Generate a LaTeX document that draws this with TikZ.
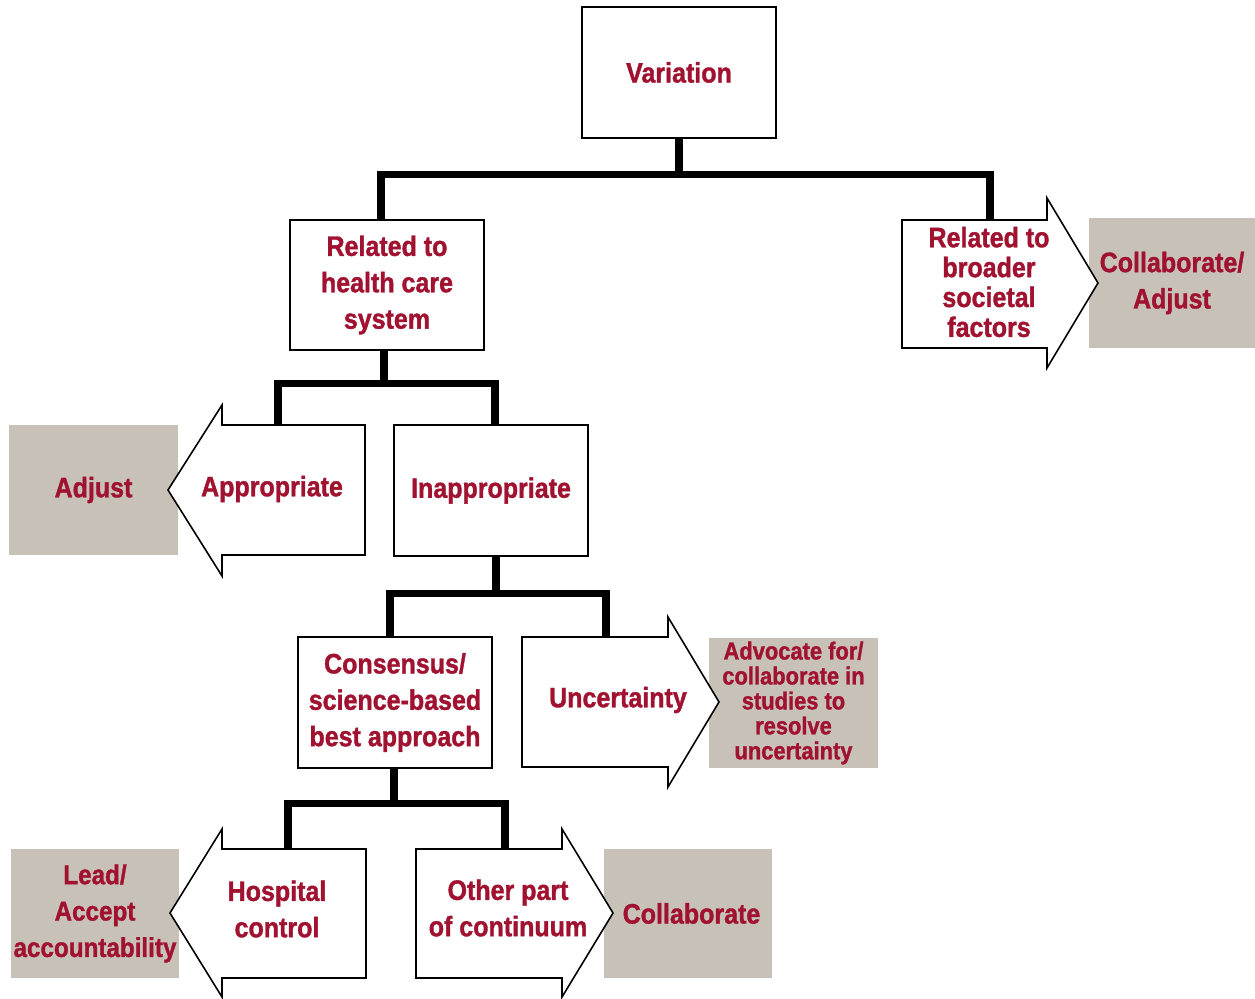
\documentclass[tikz,border=0pt]{standalone}
\usepackage{fontspec}
\setmainfont{Liberation Sans}[FakeStretch=0.89, BoldFeatures={FakeBold=1.3}]
\usetikzlibrary{calc}

\definecolor{vred}{RGB}{160,18,48}
\definecolor{vgray}{RGB}{200,193,183}

\tikzset{
  box/.style={draw, line width=0.9pt, fill=white, minimum width=3.88cm, minimum height=2.62cm,
    align=center, inner sep=0pt, text=vred, font=\bfseries\fontsize{16}{20.7}\selectfont},
  arrowtext/.style={minimum height=2.6cm, align=center, inner sep=0pt,
    text=vred, font=\bfseries\fontsize{16}{20.7}\selectfont},
  outline/.style={draw, line width=0.9pt, fill=white, line join=miter},
  todo/.style={fill=vgray, minimum height=2.6cm, align=center, inner sep=0pt,
    text=vred, font=\bfseries\fontsize{16}{20.7}\selectfont},
  tree/.style={line width=4pt}
}

\begin{document}
\begin{tikzpicture}[x=0.02cm, y=-0.02cm]
  \useasboundingbox (0,0) rectangle (1255,998);

  % what to do (grey boxes)
  \node[todo, minimum width=3.32cm] (colad) at (1172,283) {Collaborate/\\Adjust};
  \node[todo, minimum width=3.38cm] (adj) at (93.5,490) {Adjust};
  \node[todo, minimum width=3.38cm, font=\bfseries\fontsize{14}{14.2}\selectfont] (adv) at (793.5,703) {Advocate for/\\collaborate in\\studies to\\resolve\\uncertainty};
  \node[todo, minimum width=3.36cm, minimum height=2.58cm, font=\bfseries\fontsize{15.5}{20.7}\selectfont] (lead) at (95,913.5) {Lead/\\Accept\\accountability};
  \node[todo, minimum width=3.36cm, minimum height=2.58cm] (coll) at (688,913.5) {\hspace*{0.14cm}Collaborate};

  % arrow outlines
  \draw[outline] (902,220) -- (1047,220) -- (1047,198) -- (1098,283) -- (1047,368) -- (1047,348) -- (902,348) -- cycle;
  \draw[outline] (365,425) -- (222,425) -- (222,405) -- (168,490) -- (222,576) -- (222,555) -- (365,555) -- cycle;
  \draw[outline] (522,637) -- (668,637) -- (668,617) -- (719,702) -- (668,787) -- (668,767) -- (522,767) -- cycle;
  \draw[outline] (366,849) -- (222,849) -- (222,829) -- (170,913) -- (222,997) -- (222,978) -- (366,978) -- cycle;
  \draw[outline] (416,849) -- (562,849) -- (562,829) -- (613,913) -- (562,997) -- (562,978) -- (416,978) -- cycle;

  % boxes
  \node[box] (var) at (679,72.5) {Variation};
  \node[box, minimum height=2.6cm] (hcs) at (387,285) {Related to\\health care\\system};
  \node[box] (inap) at (491,490.5) {Inappropriate};
  \node[box] (cons) at (395,702.5) {Consensus/\\science-based\\best approach};

  \node[arrowtext, minimum height=2.56cm, font=\bfseries\fontsize{16}{17}\selectfont] (soc) at (989,282) {Related to\\broader\\societal\\factors};
  \node[arrowtext] (appr) at (272,489) {Appropriate};
  \node[arrowtext] (unc) at (618,700) {Uncertainty};
  \node[arrowtext, minimum height=2.58cm] (hosp) at (277,909) {Hospital\\control};
  \node[arrowtext, minimum height=2.58cm] (oth) at (508,908) {Other part\\of continuum};

  % tree
  \draw[tree] (var.south) -- ++(0,36) -| ($(hcs.north)+(-6,0)$);
  \draw[tree] (var.south) -- ++(0,36) -| ($(soc.north)+(1,2)$);
  \draw[tree] ($(hcs.south)+(-3,0)$) -- ++(0,33) -| ($(appr.north)+(6,1)$);
  \draw[tree] ($(hcs.south)+(-3,0)$) -- ++(0,33) -| ($(inap.north)+(4,0)$);
  \draw[tree] ($(inap.south)+(5,0)$) -- ++(0,37) -| ($(cons.north)+(-5,0)$);
  \draw[tree] ($(inap.south)+(5,0)$) -- ++(0,37) -| ($(unc.north)+(-12,2)$);
  \draw[tree] ($(cons.south)+(-1,0)$) -- ++(0,35) -| ($(hosp.north)+(11,4.5)$);
  \draw[tree] ($(cons.south)+(-1,0)$) -- ++(0,35) -| ($(oth.north)+(-3,5.5)$);
\end{tikzpicture}
\end{document}
